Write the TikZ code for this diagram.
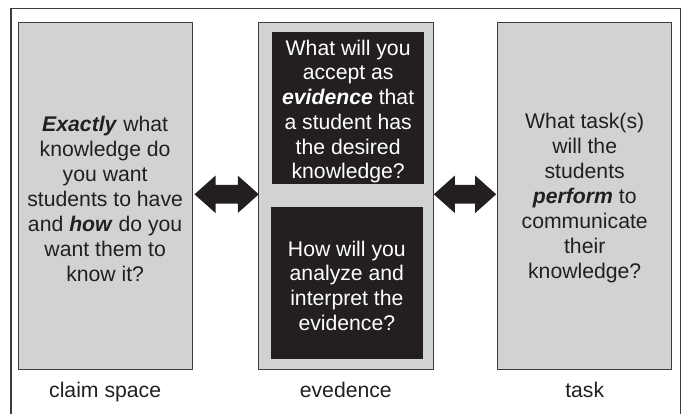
\documentclass[tikz,border=0pt]{standalone}
\usepackage{fontspec}
\setmainfont{Liberation Sans}
\usetikzlibrary{calc}
\definecolor{boxgray}{HTML}{D1D2D4}
\definecolor{inkdark}{HTML}{231F20}
\definecolor{edgegray}{HTML}{3C3C3C}
\tikzset{
  graybox/.style={draw=edgegray, line width=1pt, fill=boxgray,
    inner sep=0pt, minimum width=174.3pt, minimum height=346.6pt},
  boxtext/.style={text=inkdark, align=center, inner sep=0pt,
    font=\fontsize{21.2}{25}\selectfont},
  darkbox/.style={fill=inkdark, inner sep=0pt},
  darktext/.style={text=white, align=center, inner sep=0pt,
    font=\fontsize{21.2}{24.7}\selectfont},
  caption/.style={text=inkdark, anchor=base, inner sep=0pt,
    font=\fontsize{21.2}{25}\selectfont},
  frameline/.style={draw=edgegray, line width=1.1pt},
  arrowfill/.style={fill=inkdark}
}
\newcommand{\dblarr}[2]{%
  \fill[arrowfill] #1 -- ++(21,-18.7) -- ++(0,9.35) -- ++({#2-42},0) -- ++(0,-9.35)
    -- ++(21,18.7) -- ++(-21,18.7) -- ++(0,-9.35) -- ++({-(#2-42)},0) -- ++(0,9.35) -- cycle;}
\begin{document}
\begin{tikzpicture}[x=1pt,y=-1pt]
\useasboundingbox (0,0) rectangle (683,413);
% outer frame (open at the bottom)
\draw[frameline] (11,420) -- (11,8.3) -- (680.5,8.3) -- (680.5,420);
% left box
\node[graybox] (claim) at (105.15,196) {};
\node[boxtext] (claimtxt) at ($(claim.center)+(0,2.5)$) {\textbf{\textit{Exactly}} what\\knowledge do\\you want\\students to have\\and \textbf{\textit{how}} do you\\want them to\\know it?};
% middle box
\node[graybox, minimum width=175pt] (ev) at (345.8,196) {};
\node[darkbox, minimum width=151.7pt, minimum height=152.6pt] (evq) at (348.15,108) {};
\node[darktext] (evqtxt) at ($(evq.center)+(0,3.5)$) {What will you\\accept as\\\textbf{\textit{evidence}} that\\a student has\\the desired\\knowledge?};
\node[darkbox, minimum width=151.7pt, minimum height=152.6pt] (evi) at (346.85,283) {};
\node[darktext] (evitxt) at ($(evi.center)+(0,2.5)$) {How will you\\analyze and\\interpret the\\evidence?};
% right box
\node[graybox, minimum width=174pt] (task) at (584.7,196) {};
\node[boxtext] (tasktxt) at ($(task.center)+(0,2)$) {What task(s)\\will the\\students\\\textbf{\textit{perform}} to\\communicate\\their\\knowledge?};
% captions
\node[caption] (c1) at (claim.south |- 0,397.3) {claim space};
\node[caption] (c2) at (ev.south |- 0,397.3) {evedence};
\node[caption] (c3) at (task.south |- 0,397.3) {task};
% double arrows
\dblarr{($(claim.east)+(1.7,-1.7)$)}{64.3}
\dblarr{($(ev.east)+(0,-1.7)$)}{62.4}
\end{tikzpicture}
\end{document}
